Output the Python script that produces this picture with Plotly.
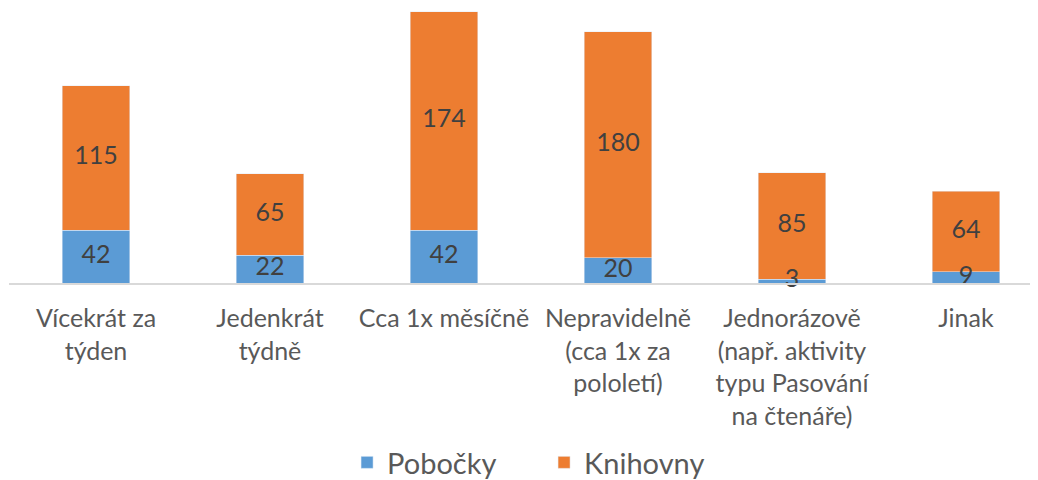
import plotly.graph_objects as go

categories = ["Vícekrát za<br>týden", "Jedenkrát<br>týdně", "Cca 1x měsíčně",
              "Nepravidelně<br>(cca 1x za<br>pololetí)",
              "Jednorázově<br>(např. aktivity<br>typu Pasování<br>na čtenáře)", "Jinak"]
pobocky = [42, 22, 42, 20, 3, 9]
knihovny = [115, 65, 174, 180, 85, 64]

BLUE = "#5B9BD5"
ORANGE = "#ED7D31"
FONT = "Lato"

fig = go.Figure()
fig.add_trace(go.Bar(x=categories, y=pobocky, name="Pobočky", marker_color=BLUE,
                     width=0.39, hoverinfo="skip"))
fig.add_trace(go.Bar(x=categories, y=knihovny, name="Knihovny", marker_color=ORANGE,
                     width=0.39, hoverinfo="skip"))

# data labels centered in each segment
fig.add_trace(go.Scatter(x=categories, y=[p / 2 for p in pobocky], mode="text",
                         text=[str(p) for p in pobocky], showlegend=False,
                         textfont=dict(family=FONT, size=25, color="#404040"),
                         cliponaxis=False, hoverinfo="skip"))
fig.add_trace(go.Scatter(x=categories, y=[p + k / 2 for p, k in zip(pobocky, knihovny)],
                         mode="text", text=[str(k) for k in knihovny], showlegend=False,
                         textfont=dict(family=FONT, size=25, color="#404040"),
                         cliponaxis=False, hoverinfo="skip"))

fig.update_layout(
    barmode="stack",
    width=1038, height=480,
    margin=dict(l=1, r=0, t=0, b=204),
    paper_bgcolor="white", plot_bgcolor="white",
    font=dict(family=FONT, color="#595959"),
    showlegend=True,
    legend=dict(orientation="h", x=0.326, xanchor="left", y=-0.655, yanchor="middle",
                traceorder="normal", font=dict(family=FONT, size=29, color="#595959"),
                itemwidth=30, entrywidth=152, entrywidthmode="pixels"),
    xaxis=dict(range=[-0.5, 5.46], showgrid=False, showline=True, linecolor="#D9D9D9",
               linewidth=2, ticks="", tickfont=dict(family=FONT, size=25, color="#595959"),
               ticklabelstandoff=12, fixedrange=True),
    yaxis=dict(range=[0, 219], visible=False, fixedrange=True),
)

fig.write_html("out.html")
